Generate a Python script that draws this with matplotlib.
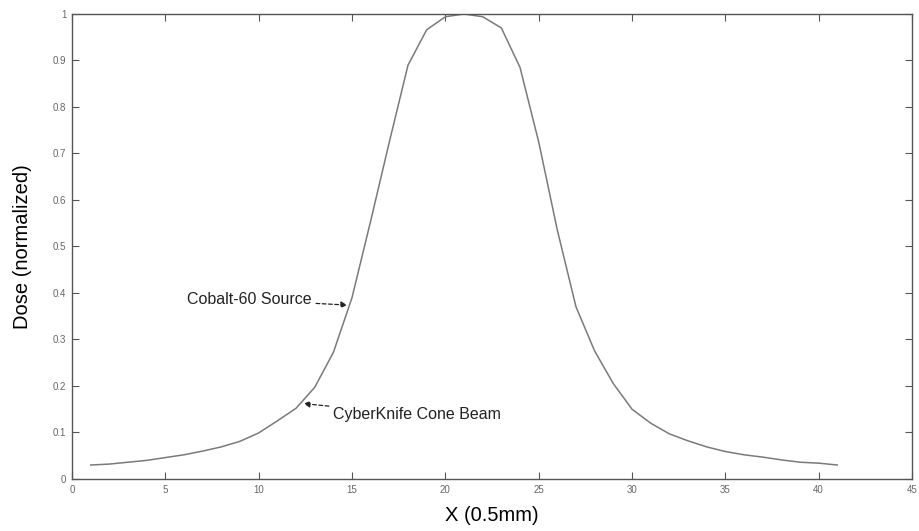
import numpy as np
import matplotlib
matplotlib.use("Agg")
import matplotlib.pyplot as plt

# beam profile sampled every 0.5 mm, normalized to the central maximum
x_pos = np.arange(1, 42)
dose = [0.030, 0.032, 0.036, 0.040, 0.046, 0.052, 0.060, 0.069, 0.081, 0.099,
        0.125, 0.152, 0.197, 0.272, 0.390, 0.555, 0.725, 0.890, 0.966, 0.994,
        1.000, 0.994, 0.970, 0.885, 0.725, 0.535, 0.370, 0.275, 0.205, 0.150,
        0.120, 0.097, 0.082, 0.069, 0.059, 0.052, 0.047, 0.041, 0.036, 0.034,
        0.030]

x_ticks = np.arange(0, 46, 5)
y_ticks = np.round(np.arange(0, 1.01, 0.1), 1)
y_ticklabels = ["0", "0.1", "0.2", "0.3", "0.4", "0.5", "0.6", "0.7", "0.8", "0.9", "1"]

plt.rcParams['font.family'] = ['Liberation Sans', 'DejaVu Sans']

fig = plt.figure(figsize=(9.2, 5.31), dpi=100)
ax = fig.add_axes([0.0783, 0.098, 0.913, 0.8757])

ax.plot(x_pos, dose, color='#7a7a7a', linewidth=1.1)

ax.set_xlim(0, 45)
ax.set_ylim(0, 1)
ax.set_xticks(x_ticks)
ax.set_xticklabels([str(v) for v in x_ticks])
ax.set_yticks(y_ticks)
ax.set_yticklabels(y_ticklabels)
ax.tick_params(direction='in', length=5, width=0.8, color='#555555',
               labelsize=7, labelcolor='#666666', top=True, right=True, pad=4)
for sp in ax.spines.values():
    sp.set_color('#555555')
    sp.set_linewidth(1.0)

ax.set_xlabel('X (0.5mm)', fontsize=14.5, labelpad=8)
ax.set_ylabel('Dose (normalized)', fontsize=14.5, labelpad=15)

# labelled arrows pointing at the two overlaid profiles
ax.annotate('Cobalt-60 Source', xy=(14.75, 0.374), xytext=(12.85, 0.385),
            fontsize=11.5, ha='right', va='center', color='#222222',
            arrowprops=dict(arrowstyle='-|>', linestyle=(0, (3, 2)), color='#222222',
                            lw=0.9, mutation_scale=9, shrinkA=1, shrinkB=0))
ax.annotate('CyberKnife Cone Beam', xy=(12.4, 0.162), xytext=(13.98, 0.138),
            fontsize=11.5, ha='left', va='center', color='#222222',
            arrowprops=dict(arrowstyle='-|>', linestyle=(0, (3, 2)), color='#222222',
                            lw=0.9, mutation_scale=9, shrinkA=1, shrinkB=0))

fig.savefig('out.png', dpi=100, facecolor='white')
